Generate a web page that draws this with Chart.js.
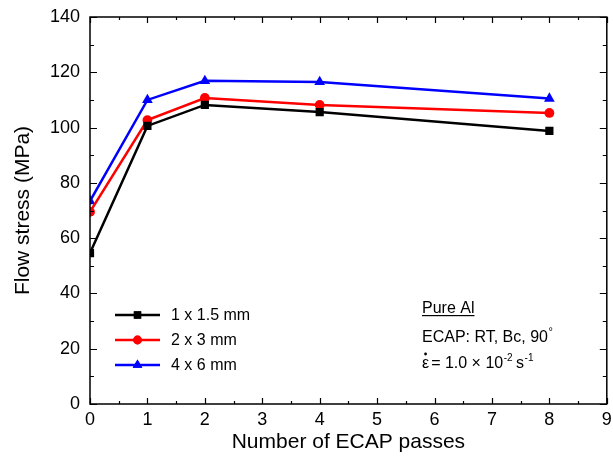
<!DOCTYPE html>
<html><head><meta charset="utf-8">
<script src="https://cdn.jsdelivr.net/npm/chart.js@4/dist/chart.umd.min.js"></script>
<style>html,body{margin:0;padding:0;background:#fff}#wrap{width:613px;height:465px}</style>
</head><body><div id="wrap"><canvas id="c" width="613" height="465"></canvas></div>
<script>
const passes = [0, 1, 2, 4, 8];
const stress_1x15 = [54.6, 100.6, 108.2, 105.6, 98.8];
const stress_2x3 = [69.5, 102.7, 110.7, 108.2, 105.3];
const stress_4x6 = [73.4, 110.0, 116.9, 116.5, 110.5];
const seriesLabels = ['1 x 1.5 mm', '2 x 3 mm', '4 x 6 mm'];
const xTicks = [0,1,2,3,4,5,6,7,8,9];
const yTicks = [0,20,40,60,80,100,120,140];
const FONT = "'Liberation Sans', Arial, sans-serif";

function pts(vals){ return passes.map((x,i)=>({x:x,y:vals[i]})); }

const styles = [
  {color:'#000000', pointStyle:'rect', radius:5.8},
  {color:'#ff0000', pointStyle:'circle', radius:4.9},
  {color:'#0000ff', pointStyle:'triangle', radius:6.2}
];
const allVals = [stress_1x15, stress_2x3, stress_4x6];

const datasets = allVals.map((v,i)=>({
  label: seriesLabels[i],
  data: pts(v),
  borderColor: styles[i].color,
  backgroundColor: styles[i].color,
  pointBackgroundColor: styles[i].color,
  pointBorderColor: styles[i].color,
  pointStyle: styles[i].pointStyle,
  pointRadius: styles[i].radius,
  pointBorderWidth: 0,
  borderWidth: 2.5,
  tension: 0
}));

const framePlugin = {
  id: 'frame',
  afterDatasetsDraw(chart){
    const ctx = chart.ctx, a = chart.chartArea;
    const xs = chart.scales.x, ys = chart.scales.y;
    ctx.save();
    ctx.strokeStyle = '#000'; ctx.lineWidth = 1.5;
    ctx.strokeRect(a.left, a.top, a.right - a.left, a.bottom - a.top);
    ctx.lineWidth = 1.2;
    ctx.beginPath();
    for (let v = 0; v <= 9.0001; v += 0.5) {
      const px = Math.round(xs.getPixelForValue(v)) + 0.5;
      const L = (Math.abs(v - Math.round(v)) < 1e-6) ? 6 : 3;
      ctx.moveTo(px, a.bottom); ctx.lineTo(px, a.bottom - L);
      ctx.moveTo(px, a.top); ctx.lineTo(px, a.top + L);
    }
    for (let v = 0; v <= 140.0001; v += 10) {
      const py = Math.round(ys.getPixelForValue(v)) + 0.5;
      const L = (v % 20 === 0) ? 7 : 4;
      ctx.moveTo(a.left, py); ctx.lineTo(a.left + L, py);
      ctx.moveTo(a.right, py); ctx.lineTo(a.right - L, py);
    }
    ctx.stroke();

    // legend
    const lx0 = 115, lx1 = 160, ly0 = 315, dy = 25;
    chart.data.datasets.forEach((ds, i) => {
      const y = ly0 + i * dy;
      ctx.strokeStyle = ds.borderColor; ctx.lineWidth = 2.3;
      ctx.beginPath(); ctx.moveTo(lx0, y); ctx.lineTo(lx1, y); ctx.stroke();
      ctx.fillStyle = ds.backgroundColor;
      Chart.helpers.drawPoint(ctx, {pointStyle: ds.pointStyle, radius: ds.pointRadius * 0.9, borderWidth: 0, rotation: 0}, (lx0 + lx1) / 2, y);
      ctx.fill();
      ctx.fillStyle = '#000';
      ctx.font = '16px ' + FONT;
      ctx.textBaseline = 'middle'; ctx.textAlign = 'left';
      ctx.fillText(ds.label, 171, y + 1);
    });

    // annotation
    ctx.fillStyle = '#000'; ctx.textBaseline = 'alphabetic'; ctx.textAlign = 'left';
    ctx.font = '16px ' + FONT;
    const ax = 422;
    ctx.fillText('Pure Al', ax, 313);
    const w = ctx.measureText('Pure Al').width;
    ctx.fillRect(ax, 315, w, 1.2);
    ctx.fillText('ECAP: RT, Bc, 90', ax, 342);
    let wx = ax + ctx.measureText('ECAP: RT, Bc, 90').width;
    ctx.font = '11px ' + FONT;
    ctx.fillText('\u00b0', wx + 0.5, 335);
    // strain rate line
    let x = ax, by = 368;
    ctx.font = '16px ' + FONT;
    ctx.fillText('\u03b5', x, by);
    const ew = ctx.measureText('\u03b5').width;
    ctx.beginPath(); ctx.arc(x + ew/2, by - 14, 1.4, 0, Math.PI*2); ctx.fill();
    x += ew + 2;
    ctx.fillText('= 1.0 \u00d7 10', x, by);
    x += ctx.measureText('= 1.0 \u00d7 10').width;
    ctx.font = '10px ' + FONT;
    ctx.fillText('-2', x + 0.5, by - 7);
    x += ctx.measureText('-2').width + 4;
    ctx.font = '16px ' + FONT;
    ctx.fillText('s', x, by);
    x += ctx.measureText('s').width;
    ctx.font = '10px ' + FONT;
    ctx.fillText('-1', x + 0.5, by - 7);
    ctx.restore();
  }
};

new Chart(document.getElementById('c'), {
  type: 'line',
  data: { datasets },
  options: {
    responsive: false,
    animation: false,
    devicePixelRatio: 1,
    layout: { padding: { top: 17, right: 4, left: 0, bottom: 0 } },
    plugins: { legend: { display: false }, tooltip: { enabled: false } },
    scales: {
      x: {
        type: 'linear', min: 0, max: 9,
        afterBuildTicks(s){ s.ticks = xTicks.map(v => ({value: v})); },
        afterFit(s){ s.height = 61; s.paddingLeft = 0; s.paddingRight = 0; },
        grid: { display: false, drawTicks: false },
        border: { display: false },
        ticks: { color: '#000', font: { family: FONT, size: 18 }, padding: 5 },
        title: { display: true, text: 'Number of ECAP passes', color: '#000',
                 font: { family: FONT, size: 21 }, padding: { top: 0, bottom: 10 } }
      },
      y: {
        type: 'linear', min: 0, max: 140,
        afterBuildTicks(s){ s.ticks = yTicks.map(v => ({value: v})); },
        afterFit(s){ s.width = 90; s.paddingTop = 0; s.paddingBottom = 0; },
        grid: { display: false, drawTicks: false },
        border: { display: false },
        ticks: { color: '#000', font: { family: FONT, size: 18 }, padding: 10 },
        title: { display: true, text: 'Flow stress (MPa)', color: '#000',
                 font: { family: FONT, size: 21 }, padding: { top: 11, bottom: 0 } }
      }
    }
  },
  plugins: [framePlugin]
});
</script>
</body></html>
